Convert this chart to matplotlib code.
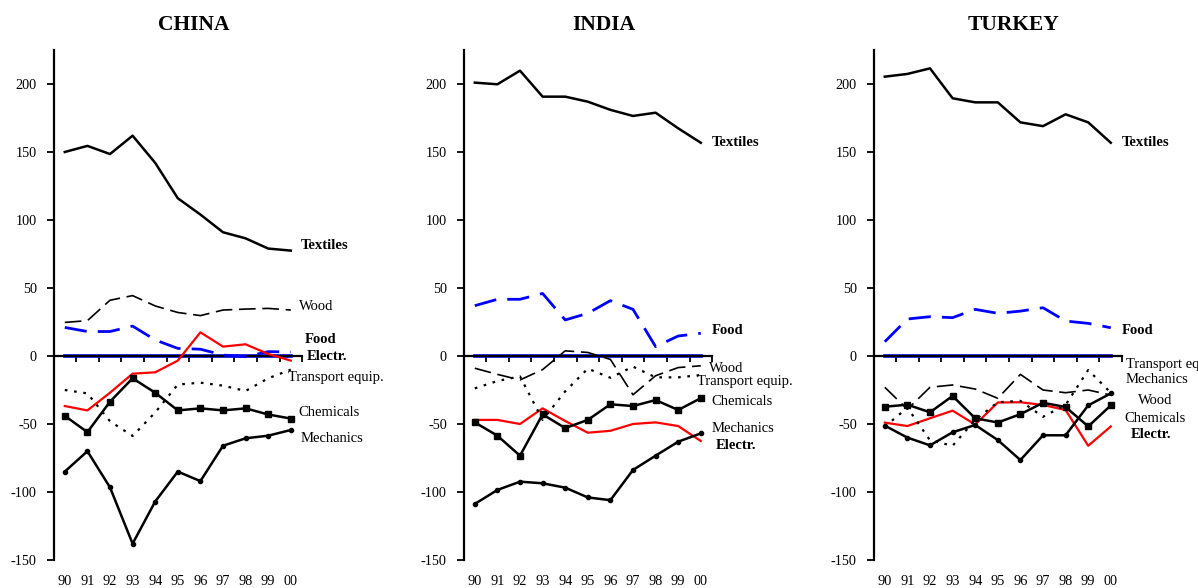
import numpy as np
import matplotlib.pyplot as plt

plt.rcParams['font.family'] = ['Liberation Serif', 'DejaVu Serif']
plt.rcParams['axes.unicode_minus'] = False

years = ['90', '91', '92', '93', '94', '95', '96', '97', '98', '99', '00']
zero_line = [0] * len(years)

# China
china_textiles = [150, 154.5, 148.5, 162, 142, 116, 104, 91, 86.5, 79, 77.5]
china_wood = [24.7, 26, 41, 44.4, 36.8, 32, 29.7, 33.8, 34.5, 35, 33.8]
china_food = [21, 18, 18, 22, 11.8, 5.6, 5, 0.7, -0.5, 3.2, 3]
china_electr = [-36.8, -40, -27, -13, -12, -3.4, 17.4, 6.9, 8.6, 1.5, -3.4]
china_transport = [-25, -27.5, -48, -58.8, -41.5, -21, -19.6, -21.8, -25.7, -16.4, -10]
china_chemicals = [-44, -56, -33.6, -16.4, -27, -40, -38.5, -40, -38.5, -43, -46]
china_mechanics = [-85, -70, -96.6, -138, -107, -85, -92, -66, -60.5, -58.6, -54.4]

# India
india_textiles = [201, 199.8, 209.8, 190.7, 190.7, 187, 181, 176.5, 178.9, 167.4, 156.8]
india_food = [37, 41.7, 41.7, 46, 26.5, 31.4, 40.7, 34.3, 6.9, 14.7, 16.7]
india_wood = [-9, -13.5, -17.6, -10, 3.8, 2.6, -2.5, -28.5, -14.5, -8.5, -7.2]
india_transport = [-23.8, -18.4, -15, -47, -26, -9.3, -16, -7.8, -15.7, -15.7, -14]
india_chemicals = [-48.8, -58.6, -73.3, -42.9, -53, -47, -35.5, -36.8, -32.4, -39.7, -31]
india_electr = [-47, -47, -50, -38.5, -47.8, -56.4, -55, -50, -48.8, -51.5, -62.5]
india_mechanics = [-108.8, -98.5, -92.4, -93.6, -96.8, -104, -106, -83.8, -73.3, -63, -56.9]

# Turkey
turkey_textiles = [205.4, 207.4, 211.5, 189.5, 186.5, 186.5, 171.8, 169, 177.7, 171.8, 156.8]
turkey_food = [10.5, 27.2, 28.9, 28.2, 34.3, 31.4, 33, 35.5, 25.7, 24, 20.8]
turkey_transport = [-52, -38, -62, -66, -47, -34, -33, -44.7, -36, -10.3, -27]
turkey_mechanics = [-51.2, -60, -65.7, -56.1, -50.7, -61.8, -76.5, -58.3, -58.3, -36.3, -27.5]
turkey_wood = [-23, -39.2, -23, -21.3, -24.3, -31.1, -13.5, -25, -27, -25, -28.7]
turkey_chemicals = [-37.3, -35.8, -41.4, -29.4, -45.8, -48.9, -42.8, -34.4, -37.5, -51.8, -36.3]
turkey_electr = [-49, -51.5, -45.8, -40.2, -50.4, -34.2, -34, -36, -39.7, -66, -51.8]

styles = {
    'Textiles': dict(color='black', lw=1.8),
    'Wood': dict(color='black', lw=1.2, ls=(0, (10, 4))),
    'Food': dict(color='#0000ff', lw=2.0, ls=(0, (8, 4))),
    'Electr.': dict(color='#ff0000', lw=1.6),
    'Transport equip.': dict(color='black', lw=1.6, ls=(0, (1.2, 3))),
    'Chemicals': dict(color='black', lw=1.8, marker='s', ms=5),
    'Mechanics': dict(color='black', lw=1.8, marker='o', ms=3),
}
bold_labels = ['Textiles', 'Food', 'Electr.']

panels = [
    ('CHINA', 194,
     {'Textiles': china_textiles, 'Wood': china_wood, 'Food': china_food,
      'Electr.': china_electr, 'Transport equip.': china_transport,
      'Chemicals': china_chemicals, 'Mechanics': china_mechanics},
     {'Textiles': (10.44, 81), 'Wood': (10.35, 36.5), 'Food': (10.6, 11.8),
      'Electr.': (10.7, -0.5), 'Transport equip.': (9.87, -16),
      'Chemicals': (10.35, -41.5), 'Mechanics': (10.44, -60.5)}),
    ('INDIA', 604,
     {'Textiles': india_textiles, 'Wood': india_wood, 'Food': india_food,
      'Electr.': india_electr, 'Transport equip.': india_transport,
      'Chemicals': india_chemicals, 'Mechanics': india_mechanics},
     {'Textiles': (10.47, 157), 'Food': (10.47, 19), 'Wood': (10.35, -9),
      'Transport equip.': (9.85, -19), 'Chemicals': (10.47, -33.6),
      'Mechanics': (10.47, -53), 'Electr.': (10.66, -66)}),
    ('TURKEY', 1014,
     {'Textiles': turkey_textiles, 'Wood': turkey_wood, 'Food': turkey_food,
      'Electr.': turkey_electr, 'Transport equip.': turkey_transport,
      'Chemicals': turkey_chemicals, 'Mechanics': turkey_mechanics},
     {'Textiles': (10.47, 157), 'Food': (10.47, 19), 'Transport equip.': (10.66, -6),
      'Mechanics': (10.66, -17.6), 'Wood': (11.2, -32.4),
      'Chemicals': (10.62, -45.8), 'Electr.': (10.88, -58)}),
]

W, H = 1198, 588
fig = plt.figure(figsize=(W / 100, H / 100), dpi=100)

x = np.arange(len(years))
for i, (country, title_x, series, label_pos) in enumerate(panels):
    left = 53.5 + 410 * i
    ax = fig.add_axes([left / W, 28 / H, 248.6 / W, 510 / H])
    ax.set_xlim(-0.5, 10.5)
    ax.set_ylim(-150, 225)

    ax.plot(x, zero_line, color='#0000ff', lw=2.6, zorder=2.5)
    for name, vals in series.items():
        ax.plot(x, vals, zorder=3, **styles[name])
        lx, ly = label_pos[name]
        ax.text(lx, ly, name, fontsize=10.5, va='center', ha='left', clip_on=False,
                fontweight='bold' if name in bold_labels else 'normal')

    for s in ['top', 'right']:
        ax.spines[s].set_visible(False)
    ax.spines['left'].set_linewidth(1.6)
    ax.spines['bottom'].set_position(('data', 0))
    ax.spines['bottom'].set_linewidth(1.6)

    ax.set_xticks(np.arange(0.5, 10.6, 1))
    ax.tick_params(axis='x', labelbottom=False, direction='out', length=4.5, width=1.3)
    ax.set_yticks(np.arange(-150, 201, 50))
    ax.tick_params(axis='y', direction='out', length=5, width=1.3, pad=7, labelsize=10.3)

    sec = ax.secondary_xaxis(0)
    sec.set_xticks(x, years)
    sec.tick_params(length=0, pad=11, labelsize=10.3)
    sec.spines['bottom'].set_visible(False)

    fig.text(title_x / W, 1 - 25.5 / H, country, fontsize=15.5, fontweight='bold',
             ha='center', va='center')

fig.savefig('out.png', dpi=100)
